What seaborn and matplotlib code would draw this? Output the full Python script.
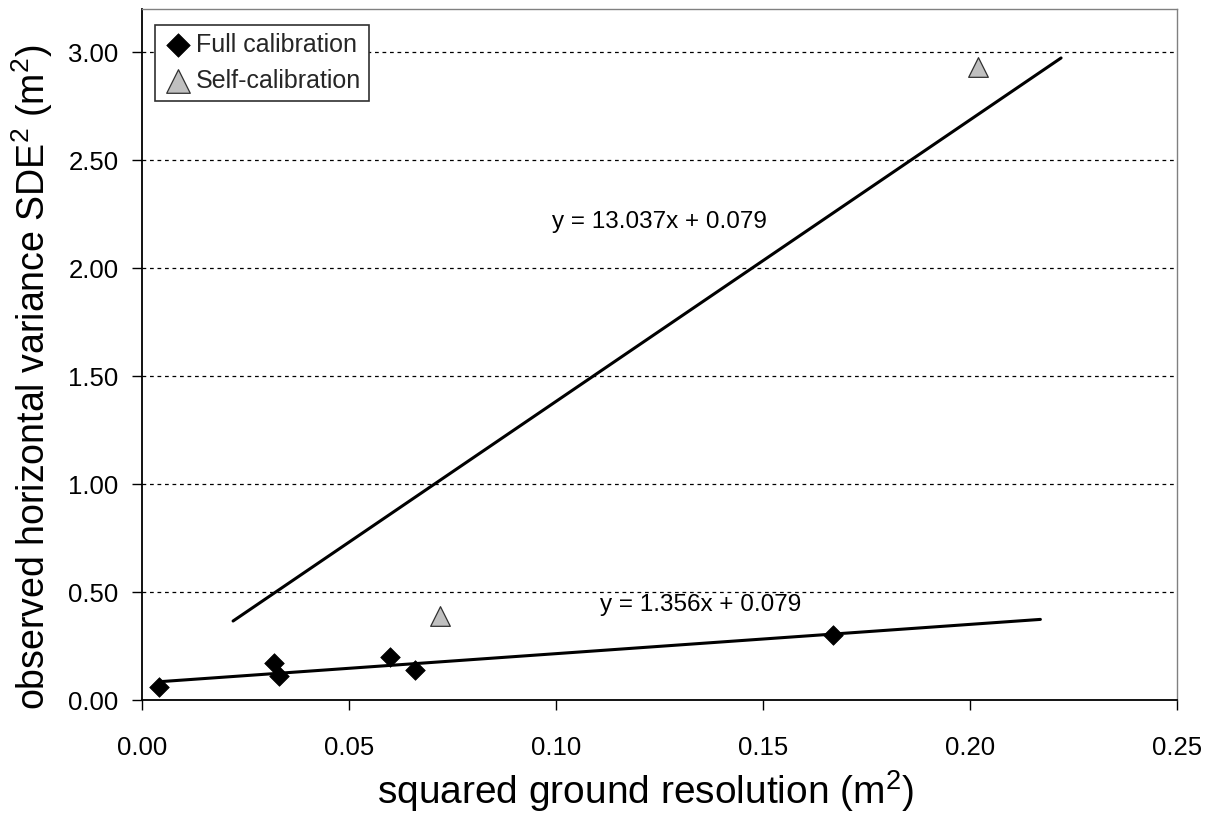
import numpy as np
import pandas as pd
import matplotlib
matplotlib.use("Agg")
import matplotlib.pyplot as plt
import seaborn as sns

# ---- data ----
full_x = [0.004, 0.032, 0.033, 0.060, 0.066, 0.167]
full_y = [0.06, 0.17, 0.11, 0.20, 0.14, 0.30]
self_x = [0.072, 0.202]
self_y = [0.39, 2.93]

# trend lines: slope, intercept, x-extent
full_slope, full_icpt = 1.356, 0.079
full_xrange = [0.004, 0.217]
self_slope, self_icpt = 13.037, 0.079
self_xrange = [0.022, 0.222]

xticks = [0.00, 0.05, 0.10, 0.15, 0.20, 0.25]
yticks = [0.00, 0.50, 1.00, 1.50, 2.00, 2.50, 3.00]

sns.set_theme(style="white")
plt.rcParams['font.family'] = ['Liberation Sans', 'DejaVu Sans']
plt.rcParams['mathtext.default'] = 'regular'

fig = plt.figure(figsize=(12.16, 8.14), dpi=100)
W, H = 1216, 814
ax = fig.add_axes([142 / W, (814 - 700) / H, (1177 - 142) / W, (700 - 9) / H])

# trend lines
df_full_line = pd.DataFrame({"x": full_xrange,
                             "y": [full_slope * v + full_icpt for v in full_xrange]})
df_self_line = pd.DataFrame({"x": self_xrange,
                             "y": [self_slope * v + self_icpt for v in self_xrange]})
sns.lineplot(data=df_full_line, x="x", y="y", color="black", lw=2.2, ax=ax, zorder=3)
sns.lineplot(data=df_self_line, x="x", y="y", color="black", lw=2.2, ax=ax, zorder=3)

# points
df_full = pd.DataFrame({"x": full_x, "y": full_y})
df_self = pd.DataFrame({"x": self_x, "y": self_y})
sns.scatterplot(data=df_full, x="x", y="y", marker="D", s=100, color="black",
                edgecolor="black", linewidth=0.5, ax=ax, zorder=4, label="Full calibration")
sns.scatterplot(data=df_self, x="x", y="y", marker="^", s=200, color="#c0c0c0",
                edgecolor="#303030", linewidth=0.9, ax=ax, zorder=4, label="Self-calibration")

ax.set_xlim(0, 0.25)
ax.set_ylim(0, 3.2)
ax.set_xticks(xticks)
ax.set_yticks(yticks)
ax.set_xticklabels([f"{v:.2f}" for v in xticks])
ax.set_yticklabels([f"{v:.2f}" for v in yticks])
ax.tick_params(axis='both', labelsize=18.5, colors='black', direction='out')
ax.tick_params(axis='y', length=7, width=1, pad=10, left=True)
ax.tick_params(axis='x', length=7, width=1, pad=19, bottom=True)

ax.grid(False)
for v in yticks[1:]:
    ax.axhline(v, color='black', lw=0.9, ls=(0, (3, 3)), zorder=1)

for s in ['left', 'bottom']:
    ax.spines[s].set_color('black')
    ax.spines[s].set_linewidth(1.3)
for s in ['top', 'right']:
    ax.spines[s].set_color('#808080')
    ax.spines[s].set_linewidth(1.0)

ax.set_xlabel("squared ground resolution (m$^2$)", fontsize=28, color='black')
ax.set_ylabel("observed horizontal variance SDE$^2$ (m$^2$)", fontsize=27, color='black')
ax.xaxis.set_label_coords((645 - 142) / 1035, -(768 - 700) / 691)
ax.yaxis.set_label_coords(-(142 - 55) / 1035, (700 - 377) / 691)

ax.text(0.1251, 2.213, "y = 13.037x + 0.079", fontsize=17.5, ha='center', va='center', color='black')
ax.text(0.135, 0.44, "y = 1.356x + 0.079", fontsize=17.5, ha='center', va='center', color='black')

leg = ax.legend(loc='upper left', bbox_to_anchor=((155 - 142) / 1035, (700 - 25) / 691),
                borderaxespad=0, fontsize=18, frameon=True, fancybox=False,
                edgecolor='#303030', framealpha=1, handletextpad=0.15, handlelength=1.2,
                borderpad=0.3, labelspacing=0.5, markerscale=1.2)
leg.get_frame().set_linewidth(1.2)

fig.savefig("out.png", dpi=100, facecolor='white')
